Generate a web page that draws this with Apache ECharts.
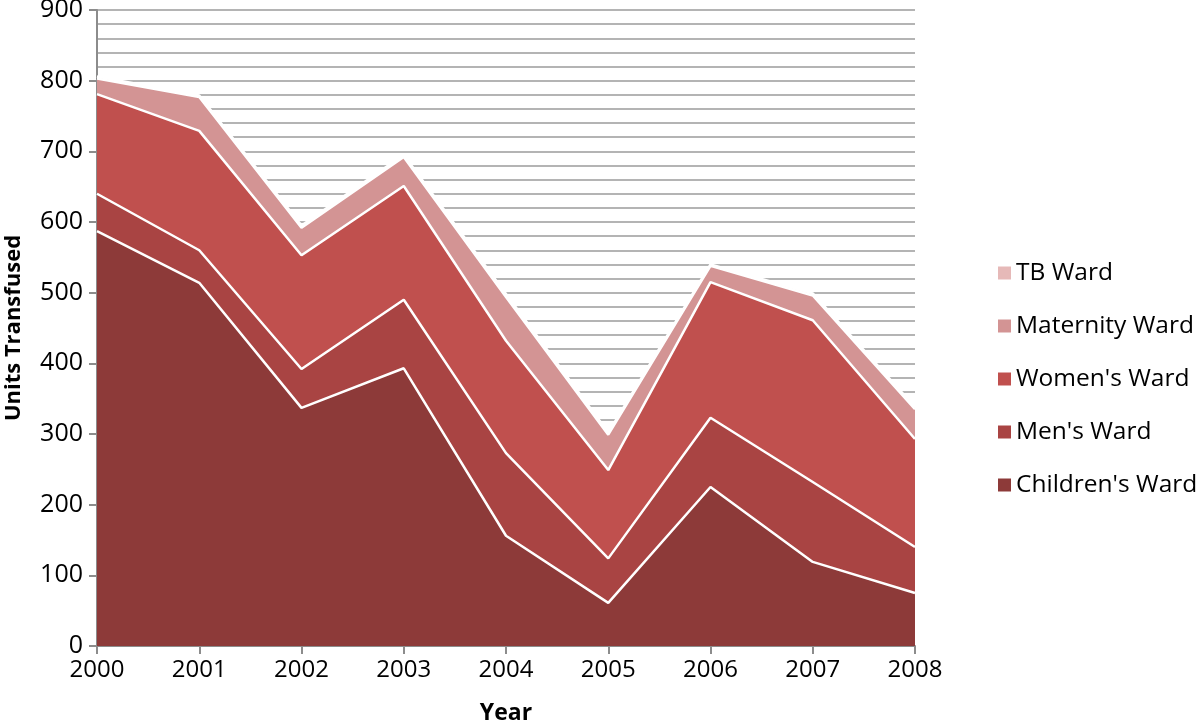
<!DOCTYPE html>
<html>
<head>
<meta charset="utf-8">
<script src="https://cdn.jsdelivr.net/npm/echarts@6/dist/echarts.min.js"></script>
<style>
  html, body { margin: 0; padding: 0; background: #fff; }
  #chart { width: 1200px; height: 721px; }
</style>
</head>
<body>
<div id="chart"></div>
<script>
// ============ 数据 ============
const years = ['2000', '2001', '2002', '2003', '2004', '2005', '2006', '2007', '2008'];
const childrenWard = [587, 514, 337, 393, 156, 61, 225, 119, 75];
const mensWard = [53, 46, 55, 97, 117, 63, 98, 113, 65];
const womensWard = [141, 169, 161, 161, 159, 125, 192, 229, 153];
const maternityWard = [22, 48, 39, 41, 62, 50, 23, 35, 42];
const tbWard = [3, 2, 3, 3, 4, 3, 2, 3, 3];

const seriesDefs = [
  { name: "Children's Ward", data: childrenWard, color: '#8d3a39' },
  { name: "Men's Ward", data: mensWard, color: '#a94443' },
  { name: "Women's Ward", data: womensWard, color: '#c0504e' },
  { name: 'Maternity Ward', data: maternityWard, color: '#d39494' },
  { name: 'TB Ward', data: tbWard, color: '#e6b9b8' },
];

const FONT = 'Open Sans';
const chart = echarts.init(document.getElementById('chart'));

// 下层系列 z 更高，保证白色分隔线不被上层面积遮住
const series = seriesDefs.map((s, i) => ({
  name: s.name,
  type: 'line',
  stack: 'total',
  data: s.data,
  symbol: 'none',
  z: 10 - i,
  itemStyle: { color: s.color },
  lineStyle: { color: '#ffffff', width: 2.5 },
  areaStyle: { color: s.color, opacity: 1 },
  emphasis: { disabled: true },
}));

chart.setOption({
  animation: false,
  textStyle: { fontFamily: FONT },
  legend: {
    orient: 'vertical',
    left: 993,
    top: 253,
    itemGap: 23,
    itemWidth: 13,
    itemHeight: 13,
    icon: 'rect',
    data: seriesDefs.map(s => s.name).reverse(),
    textStyle: { fontFamily: FONT, fontSize: 24.5, lineHeight: 30, color: '#000' },
  },
  grid: { left: 97, right: 285, top: 10, bottom: 75, outerBoundsMode: 'none', containLabel: false },
  xAxis: {
    type: 'category',
    data: years,
    boundaryGap: false,
    name: 'Year',
    nameLocation: 'middle',
    nameGap: 56,
    nameTextStyle: { fontFamily: FONT, fontSize: 23, fontWeight: 'bold', color: '#000' },
    axisLine: { lineStyle: { color: '#8c8c8c', width: 2 } },
    axisTick: { show: true, alignWithLabel: true, length: 8, lineStyle: { color: '#8c8c8c', width: 2 } },
    axisLabel: { fontFamily: FONT, fontSize: 24, color: '#000', margin: 12 },
    splitLine: { show: false },
  },
  yAxis: {
    type: 'value',
    min: 0,
    max: 900,
    interval: 100,
    name: 'Units Transfused',
    nameLocation: 'middle',
    nameGap: 72,
    nameTextStyle: { fontFamily: FONT, fontSize: 22, fontWeight: 'bold', color: '#000' },
    axisLine: { show: true, lineStyle: { color: '#8c8c8c', width: 2 } },
    axisTick: { show: true, length: 8, lineStyle: { color: '#8c8c8c', width: 2 } },
    axisLabel: { fontFamily: FONT, fontSize: 25, color: '#000', margin: 14 },
    splitLine: { show: true, lineStyle: { color: '#b4b4b4', width: 2 } },
    minorTick: { show: false, splitNumber: 5 },
    minorSplitLine: { show: true, lineStyle: { color: '#b4b4b4', width: 2 } },
  },
  series: series,
});
</script>
</body>
</html>
